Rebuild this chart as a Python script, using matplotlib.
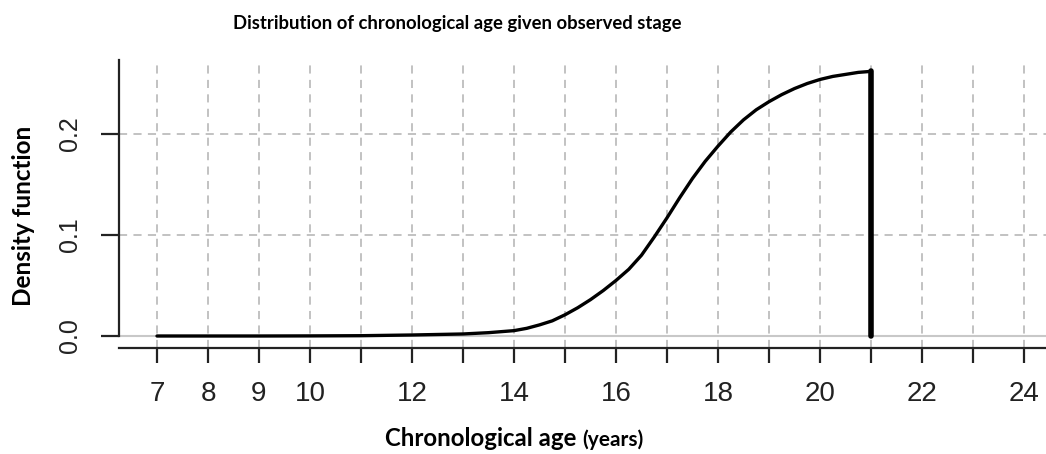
import matplotlib.pyplot as plt

# density of chronological age given observed stage (truncated at 21)
age = [7, 8, 9, 10, 11, 12, 13, 13.5, 14, 14.25, 14.5, 14.75, 15, 15.25,
       15.5, 15.75, 16, 16.25, 16.5, 16.75, 17, 17.25, 17.5, 17.75, 18,
       18.25, 18.5, 18.75, 19, 19.25, 19.5, 19.75, 20, 20.25, 20.5, 20.75, 21]
density = [0.0, 0.0, 0.0, 0.0001, 0.0003, 0.001, 0.002, 0.0033, 0.0053,
           0.0076, 0.011, 0.015, 0.021, 0.028, 0.036, 0.045, 0.055, 0.066,
           0.080, 0.098, 0.117, 0.137, 0.156, 0.173, 0.188, 0.202, 0.214,
           0.224, 0.232, 0.239, 0.245, 0.250, 0.254, 0.257, 0.259, 0.261, 0.262]
cutoff = 21

xticks = list(range(7, 25))
xlabels = ['7', '8', '9', '10', '', '12', '', '14', '', '16', '', '18', '',
           '20', '', '22', '', '24']
yticks = [0.0, 0.1, 0.2]
ylabels = ['0.0', '0.1', '0.2']

W, H = 1046, 454
fig = plt.figure(figsize=(W / 100, H / 100), dpi=100)
left, right, top, bottom = 119, 1046, 60, 348
ax = fig.add_axes([left / W, 1 - bottom / H, (right - left) / W, (bottom - top) / H])

ax.set_xlim(7 - (157 - left) / 51.0, 7 + (right - 157) / 51.0)
ax.set_ylim(-(bottom - 336) / 1010, (336 - top) / 1010)

grid_col = '#bdbdbd'
for x in xticks:
    ax.axvline(x, color=grid_col, lw=1.3, ls=(0, (4.5, 3.5)), zorder=1)
for y in yticks[1:]:
    ax.axhline(y, color=grid_col, lw=1.3, ls=(0, (4.5, 3.5)), zorder=1)
ax.axhline(0, color='#c8c8c8', lw=1.5, zorder=1)

ax.plot(age, density, color='black', lw=2.4, solid_capstyle='round',
        solid_joinstyle='round', zorder=3)
ax.plot([cutoff, cutoff], [0, density[-1]], color='black', lw=4.0,
        solid_capstyle='round', zorder=3)

for s in ['top', 'right']:
    ax.spines[s].set_visible(False)
ax.spines['left'].set_bounds(0, ax.get_ylim()[1])
for s in ['left', 'bottom']:
    ax.spines[s].set_color('#222222')
    ax.spines[s].set_linewidth(1.6)

tick_font = ['Liberation Sans Narrow', 'Liberation Sans']
ax.set_xticks(xticks)
ax.set_xticklabels(xlabels, fontsize=20, family=tick_font, color='#222222')
ax.set_yticks(yticks)
ax.set_yticklabels(ylabels, fontsize=18, family=tick_font, color='#222222',
                   rotation=90, va='center')
ax.tick_params(axis='x', length=11, width=1.6, color='#222222', pad=13)
ax.tick_params(axis='y', length=13, width=1.6, color='#222222', pad=14)

fig.text(457 / W, 1 - 23 / H, 'Distribution of chronological age given observed stage',
         ha='center', va='center', fontsize=13.3, fontweight='bold', family='Lato')
fig.text(24 / W, 1 - 216 / H, 'Density function', ha='center', va='center',
         rotation=90, fontsize=17.5, fontweight='bold', family='Lato')
main = fig.text(385 / W, 1 - 446 / H, 'Chronological age ', ha='left', va='baseline',
                fontsize=17.3, fontweight='bold', family='Lato')
ax.annotate('(years)', xy=(1, 0), xycoords=main, ha='left', va='bottom',
            fontsize=15, fontweight='bold', family='Lato')

fig.savefig('out.png', dpi=100)
